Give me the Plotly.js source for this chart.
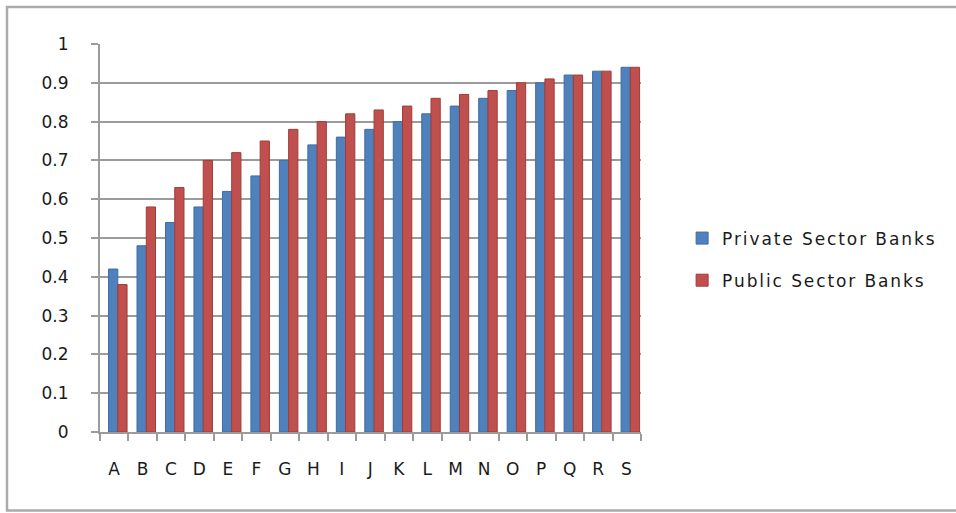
<!DOCTYPE html>
<html>
<head>
<meta charset="utf-8">
<script src="https://cdn.plot.ly/plotly-3.0.1.min.js"></script>
<style>
  html, body { margin: 0; padding: 0; background: #ffffff; }
  #chart { width: 956px; height: 513px; }
  #chart .legendtext { letter-spacing: 1.9px; }
  #chart .legend .scrollbox, #chart .legend [clip-path] { clip-path: none !important; }
  #chart .xtick text { letter-spacing: 0.5px; }
</style>
</head>
<body>
<div id="chart"></div>
<script>
// Banks grouped by letter, ratio per sector
const categories = ['A','B','C','D','E','F','G','H','I','J','K','L','M','N','O','P','Q','R','S'];
const privateSector = [0.42,0.48,0.54,0.58,0.62,0.66,0.70,0.74,0.76,0.78,0.80,0.82,0.84,0.86,0.88,0.90,0.92,0.93,0.94];
const publicSector  = [0.38,0.58,0.63,0.70,0.72,0.75,0.78,0.80,0.82,0.83,0.84,0.86,0.87,0.88,0.90,0.91,0.92,0.93,0.94];
const seriesNames = ['Private Sector Banks', 'Public Sector Banks'];
const yTicks = [0,0.1,0.2,0.3,0.4,0.5,0.6,0.7,0.8,0.9,1];
const yTickText = ['0','0.1','0.2','0.3','0.4','0.5','0.6','0.7','0.8','0.9','1'];

const FONT = 'DejaVu Sans, sans-serif';
const TEXT = '#1a1a1a';
const BAR_W = 0.325;

const traces = [
  {
    type: 'bar', name: seriesNames[0], x: categories, y: privateSector,
    legendgroup: 'priv', width: BAR_W, offset: -0.2,
    marker: { color: '#4F81BD', line: { color: '#3f6da3', width: 1 } },
    hoverinfo: 'x+y'
  },
  {
    type: 'bar', name: seriesNames[1], x: categories, y: publicSector,
    legendgroup: 'pub', width: BAR_W, offset: -0.2 + BAR_W,
    marker: { color: '#C0504D', line: { color: '#9e3d3a', width: 1 } },
    hoverinfo: 'x+y'
  }
];

const layout = {
  width: 956, height: 513,
  margin: { l: 100, r: 315, t: 44, b: 81, pad: 0 },
  paper_bgcolor: '#ffffff',
  plot_bgcolor: 'rgba(0,0,0,0)',
  barmode: 'overlay',
  font: { family: FONT, size: 17, color: TEXT },
  showlegend: true,
  legend: {
    x: 1.076, xanchor: 'left',
    y: 0.545, yanchor: 'top',
    font: { family: FONT, size: 17, color: TEXT },
    tracegroupgap: 17,
    bgcolor: 'rgba(0,0,0,0)'
  },
  xaxis: {
    type: 'category',
    showgrid: false,
    zeroline: false,
    showline: true, linecolor: '#9b9b9b', linewidth: 2,
    ticks: 'outside', tickson: 'boundaries', ticklen: 7, tickwidth: 2, tickcolor: '#9b9b9b',
    ticklabelstandoff: 21,
    tickfont: { family: FONT, size: 17, color: TEXT },
    fixedrange: true
  },
  yaxis: {
    range: [0, 1],
    tickvals: yTicks, ticktext: yTickText,
    showgrid: true, gridcolor: '#9b9b9b', gridwidth: 2,
    zeroline: false,
    showline: true, linecolor: '#9b9b9b', linewidth: 2,
    ticks: 'outside', ticklen: 7, tickwidth: 2, tickcolor: '#9b9b9b',
    ticklabelstandoff: 19,
    tickfont: { family: FONT, size: 17, color: TEXT },
    fixedrange: true
  },
  shapes: [
    {
      // chart-area frame, running off the right edge
      type: 'rect', xref: 'paper', yref: 'paper', layer: 'below',
      x0: -0.1719, x1: 1.62, y0: -0.2025, y1: 1.0954,
      line: { color: '#ababab', width: 2.5 }, fillcolor: 'rgba(0,0,0,0)'
    }
  ]
};

Plotly.newPlot('chart', traces, layout, { displayModeBar: false, staticPlot: true });
</script>
</body>
</html>
